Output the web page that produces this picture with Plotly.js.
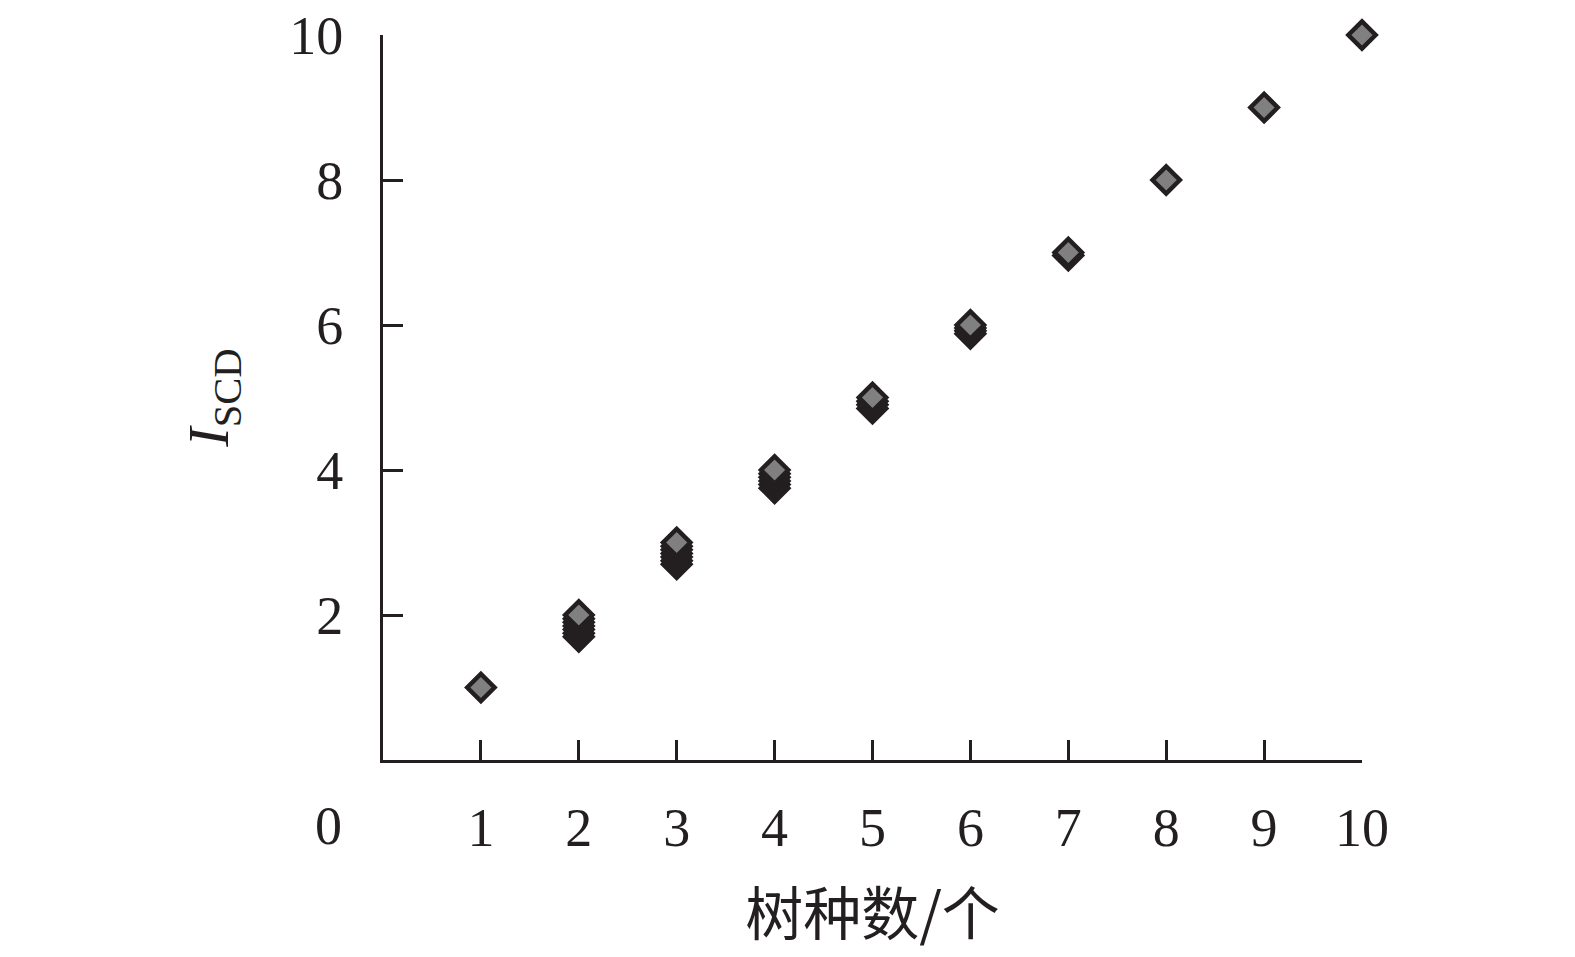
<!DOCTYPE html>
<html>
<head>
<meta charset="utf-8">
<script src="https://cdn.plot.ly/plotly-3.0.1.min.js"></script>
<style>html,body{margin:0;padding:0;background:#fff;}#chart{width:1575px;height:957px;}</style>
</head>
<body>
<div id="chart"></div>
<script>
// Species count (x) and I_SCD maximum value per count (top, gray diamonds)
const speciesCount = [1, 2, 3, 4, 5, 6, 7, 8, 9, 10];
const iscdMax = [1, 2, 3, 4, 5, 6, 7, 8, 9, 10];
// Lower I_SCD values observed for the same species count (dark diamonds)
const spreadX = [2, 2, 2, 2, 2, 2, 3, 3, 3, 3, 3, 3, 4, 4, 4, 4, 4, 5, 5, 5, 6, 6, 6, 7];
const spreadY = [1.7, 1.75, 1.8, 1.85, 1.9, 1.95, 2.7, 2.75, 2.8, 2.85, 2.9, 2.95, 3.75, 3.8, 3.85, 3.9, 3.95, 4.85, 4.9, 4.95, 5.88, 5.92, 5.96, 6.96];
const xTicks = [1, 2, 3, 4, 5, 6, 7, 8, 9, 10];
const yTicks = [2, 4, 6, 8, 10];

const ink = '#231f20';
const serif = 'Liberation Serif, Times New Roman, serif';

const traces = [
  {
    x: spreadX, y: spreadY, type: 'scatter', mode: 'markers',
    cliponaxis: false, hoverinfo: 'x+y',
    marker: {symbol: 'diamond', size: 21, color: ink, line: {color: ink, width: 4.5}}
  },
  {
    x: speciesCount, y: iscdMax, type: 'scatter', mode: 'markers',
    cliponaxis: false, hoverinfo: 'x+y',
    marker: {symbol: 'diamond', size: 21, color: '#808080', line: {color: ink, width: 4.5}}
  }
];

const layout = {
  width: 1575, height: 957,
  margin: {l: 383, r: 213, t: 35, b: 197},
  paper_bgcolor: '#fff', plot_bgcolor: '#fff',
  showlegend: false,
  font: {family: serif, color: ink, size: 54},
  xaxis: {
    range: [0, 10], tickvals: xTicks, ticktext: xTicks.map(String),
    showgrid: false, zeroline: false,
    showline: true, linecolor: ink, linewidth: 3,
    ticks: 'inside', ticklen: 20, tickwidth: 3, tickcolor: ink,
    ticklabelstandoff: 18,
    tickfont: {family: serif, size: 54, color: ink},
    title: {text: '树种数/个', font: {family: 'Noto Sans CJK SC', size: 58, color: ink}, standoff: 38}
  },
  yaxis: {
    range: [0, 10], tickvals: yTicks, ticktext: yTicks.map(String),
    showgrid: false, zeroline: false,
    showline: true, linecolor: ink, linewidth: 3,
    ticks: 'inside', ticklen: 20, tickwidth: 3, tickcolor: ink,
    ticklabelstandoff: 26,
    tickfont: {family: serif, size: 54, color: ink},
    title: {text: '<i>I</i><sub>SCD</sub>', font: {family: serif, size: 58, color: ink}, standoff: 42}
  },
  annotations: [
    {x: 0, y: 0, xref: 'x', yref: 'y', text: '0', showarrow: false,
     xshift: -55, yshift: -66, font: {family: serif, size: 54, color: ink}}
  ]
};

Plotly.newPlot('chart', traces, layout, {displayModeBar: false, staticPlot: true});
</script>
</body>
</html>
